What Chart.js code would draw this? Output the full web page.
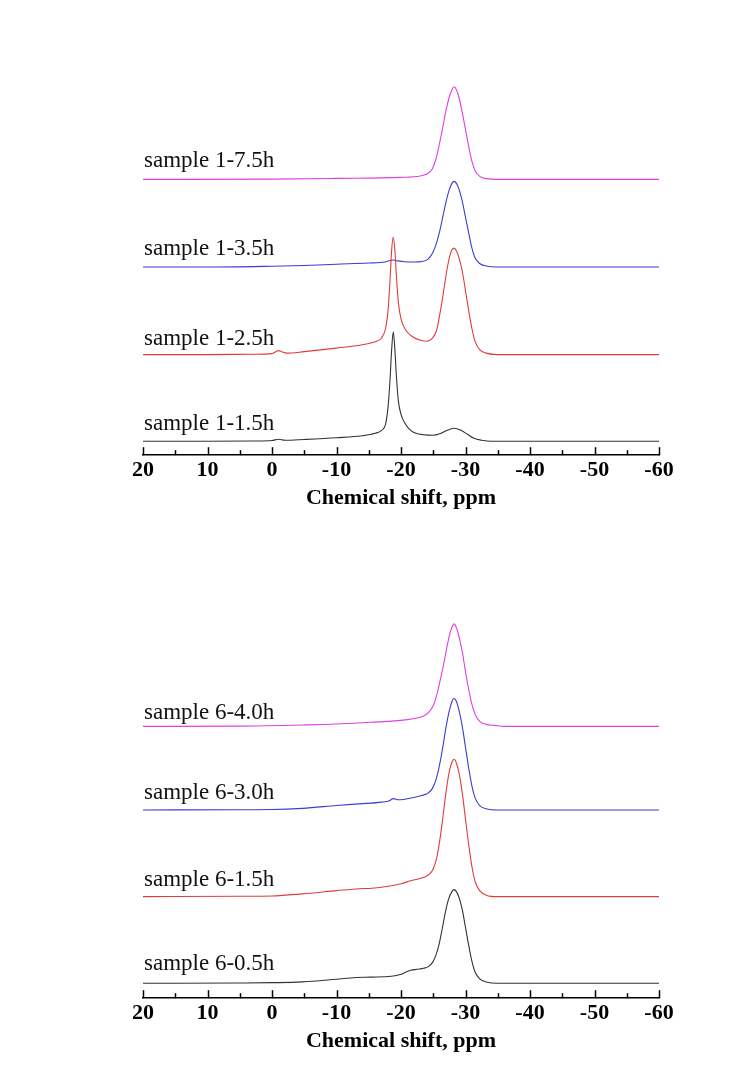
<!DOCTYPE html>
<html>
<head>
<meta charset="utf-8">
<script src="https://cdn.jsdelivr.net/npm/chart.js@4.4.1/dist/chart.umd.min.js"></script>
<style>
  body { margin: 0; background: #fff; }
  .panel { position: absolute; left: 0; width: 752px; height: 520px; }
</style>
</head>
<body>
<div class="panel" style="top:2px"><canvas id="topChart"></canvas></div>
<div class="panel" style="top:545px"><canvas id="bottomChart"></canvas></div>
<script>
// axis ticks (ppm)
const majorTicks = [20, 10, 0, -10, -20, -30, -40, -50, -60];
const minorTicks = [15, 5, -5, -15, -25, -35, -45, -55];

// top panel: sample 1, [ppm, intensity]
const topLabels = ["sample 1-1.5h", "sample 1-2.5h", "sample 1-3.5h", "sample 1-7.5h"];
const topOffsets = [14, 101, 189, 277];
const s1_15h = [[20,0],[10,0],[3,0.3],[0,0.8],[-1,2],[-2,1],[-5,1.8],[-10,3.5],[-14,5.5],[-16,8],[-17,11],[-17.6,17],[-18,35],[-18.3,62],[-18.55,92],[-18.8,110],[-19.05,92],[-19.3,64],[-19.6,40],[-20,27],[-20.7,17],[-21.5,11],[-22.3,8],[-23.5,6.5],[-25,6],[-26,7.5],[-27,10.5],[-28.2,13],[-29.3,11],[-30.3,7],[-31.3,3],[-32.5,1],[-34,0],[-60,0]];
const s1_25h = [[20,0],[10,0],[3,0.4],[0,1],[-0.6,3],[-1,4],[-1.5,3],[-2.2,1.5],[-5,3],[-10,6.5],[-14,10],[-16,13],[-17,17],[-17.6,26],[-18,45],[-18.3,75],[-18.55,105],[-18.8,118],[-19.05,105],[-19.3,78],[-19.6,52],[-20,36],[-20.7,25],[-21.8,18],[-23,14.5],[-24,13.5],[-24.8,16],[-25.5,24],[-26,40],[-26.4,55],[-26.8,72],[-27.2,88],[-27.6,100],[-27.9,105],[-28.2,107],[-28.6,104],[-29,97],[-29.5,84],[-30,64],[-30.5,44],[-31,26],[-31.5,13],[-32.2,5],[-33.2,1.5],[-35,0],[-60,0]];
const s1_35h = [[20,0],[10,0],[0,0.8],[-5,1.5],[-10,2.8],[-15,4],[-17.5,5],[-18.3,6.5],[-18.8,7],[-19.4,6.3],[-20.5,5.3],[-22,5],[-23.3,5.5],[-24.2,8],[-24.9,14],[-25.5,24],[-26,36],[-26.5,51],[-27,66],[-27.5,78],[-27.9,84],[-28.2,86],[-28.6,84],[-29,78],[-29.5,66],[-30,50],[-30.5,34],[-31,19],[-31.5,9],[-32.2,3.5],[-33.2,1],[-35,0],[-60,0]];
const s1_75h = [[20,0],[0,0.3],[-10,1],[-20,2],[-23,3.5],[-24,5.5],[-24.8,10],[-25.4,20],[-26,37],[-26.5,53],[-27,70],[-27.5,83],[-27.9,90],[-28.2,93],[-28.6,90],[-29,82],[-29.5,67],[-30,50],[-30.5,33],[-31,18],[-31.5,8.5],[-32.2,3],[-33.2,0.8],[-35,0],[-60,0]];

// bottom panel: sample 6
const bottomLabels = ["sample 6-0.5h", "sample 6-1.5h", "sample 6-3.0h", "sample 6-4.0h"];
const bottomOffsets = [15, 102, 189, 273];
const s6_05h = [[20,0],[5,0.3],[0,0.6],[-4.7,1.4],[-10,4.1],[-13,5.8],[-15.4,6.2],[-18.5,7],[-20,9],[-20.7,11],[-21.5,13],[-22.5,14],[-23.5,15],[-24.3,17],[-24.9,21],[-25.4,28],[-25.9,39],[-26.4,55],[-26.9,72],[-27.4,85],[-27.9,92],[-28.2,94],[-28.6,92],[-29,86],[-29.5,74],[-30,56],[-30.5,38],[-31,22],[-31.5,11],[-32.2,4.5],[-33.2,1.3],[-35,0],[-60,0]];
const s6_15h = [[20,0],[5,0.4],[0,0.7],[-4.7,2.8],[-10,6],[-13.5,8],[-15.5,8.5],[-18,10.5],[-20,13],[-21.5,16],[-22.8,18],[-23.8,20],[-24.5,23],[-25,28],[-25.5,38],[-26,56],[-26.5,80],[-27,106],[-27.5,126],[-27.9,135],[-28.2,138],[-28.6,134],[-29,124],[-29.5,104],[-30,78],[-30.5,52],[-31,30],[-31.5,15],[-32.2,6],[-33.2,1.5],[-35,0],[-60,0]];
const s6_30h = [[20,0],[5,0.3],[0,0.5],[-4.7,1.7],[-10,4.5],[-13.5,6.2],[-17,7.9],[-18.2,9.3],[-18.8,11.4],[-19.6,10.3],[-21.8,12.4],[-23.2,14.5],[-24.2,17],[-24.9,22],[-25.5,32],[-26,46],[-26.5,64],[-27,84],[-27.5,100],[-27.9,109],[-28.2,112],[-28.6,109],[-29,100],[-29.5,84],[-30,63],[-30.5,42],[-31,24],[-31.5,12],[-32.2,4.5],[-33.2,1.2],[-35,0],[-60,0]];
const s6_40h = [[20,0],[5,0.3],[-5,1.5],[-10,2.4],[-15.4,4.1],[-20.7,6.5],[-22.5,8.5],[-23.5,10.5],[-24.3,14],[-25,21],[-25.6,33],[-26.1,47],[-26.6,62],[-27.1,79],[-27.6,94],[-28,101],[-28.2,103],[-28.6,99],[-29,90],[-29.5,75],[-30,55],[-30.5,37],[-31,22],[-31.5,12],[-32.2,5],[-33.2,2],[-34.5,1],[-36,0],[-60,0]];

const colors = ["#333333", "#e03c3c", "#3c3cd0", "#e040e0"];

const tickMarks = {
    id: "tickMarks",
    afterDraw(chart) {
        const xs = chart.scales.x;
        const ctx = chart.ctx;
        const bottom = chart.chartArea.bottom;
        ctx.save();
        ctx.strokeStyle = "#000";
        ctx.lineWidth = 1.5;
        xs.ticks.forEach(t => {
            const px = Math.round(xs.getPixelForValue(t.value)) + 0.5;
            const len = majorTicks.includes(t.value) ? 8 : 5;
            ctx.beginPath();
            ctx.moveTo(px, bottom);
            ctx.lineTo(px, bottom - len);
            ctx.stroke();
        });
        ctx.restore();
    }
};

// lift = distance of the label baseline above its trace
function labelPlugin(labels, offsets, lift) {
    return {
        id: "sampleLabels",
        afterDatasetsDraw(chart) {
            const xs = chart.scales.x, ys = chart.scales.y, ctx = chart.ctx;
            ctx.save();
            ctx.font = "23px 'Liberation Serif', 'Times New Roman', serif";
            ctx.fillStyle = "#111";
            ctx.textBaseline = "alphabetic";
            labels.forEach((txt, i) => {
                ctx.fillText(txt, xs.getPixelForValue(20) + 1, ys.getPixelForValue(offsets[i]) - lift[i]);
            });
            ctx.restore();
        }
    };
}

function makeChart(id, series, labels, offsets, lift) {
    const datasets = series.map((pts, i) => ({
        data: pts.map(([x, y]) => ({ x: x, y: y + offsets[i] })),
        borderColor: colors[i],
        borderWidth: 1.1,
        pointRadius: 0,
        cubicInterpolationMode: "monotone"
    }));
    new Chart(document.getElementById(id), {
        type: "line",
        data: { datasets: datasets },
        options: {
            responsive: true,
            maintainAspectRatio: false,
            animation: false,
            layout: { padding: { left: 143, right: 93, top: 40, bottom: 6 } },
            plugins: { legend: { display: false }, tooltip: { enabled: false } },
            scales: {
                x: {
                    type: "linear",
                    reverse: true,
                    min: -60,
                    max: 20,
                    afterBuildTicks: scale => {
                        scale.ticks = majorTicks.concat(minorTicks).sort((a, b) => b - a).map(v => ({ value: v }));
                    },
                    ticks: {
                        autoSkip: false,
                        maxRotation: 0,
                        padding: 2,
                        color: "#000",
                        font: { family: "'Liberation Serif', 'Times New Roman', serif", size: 22, weight: "bold" },
                        callback: v => majorTicks.includes(v) ? String(v) : ""
                    },
                    grid: { drawOnChartArea: false, drawTicks: false },
                    border: { color: "#000", width: 1.5 },
                    title: {
                        display: true,
                        text: "Chemical shift, ppm",
                        color: "#000",
                        font: { family: "'Liberation Serif', 'Times New Roman', serif", size: 22, weight: "bold" },
                        padding: { top: 0, bottom: 4 }
                    }
                },
                y: { display: false, min: 0, max: 415 }
            }
        },
        plugins: [tickMarks, labelPlugin(labels, offsets, lift)]
    });
}

makeChart("topChart", [s1_15h, s1_25h, s1_35h, s1_75h], topLabels, topOffsets, [11, 10, 12, 12]);
makeChart("bottomChart", [s6_05h, s6_15h, s6_30h, s6_40h], bottomLabels, bottomOffsets, [13, 11, 11, 7]);
</script>
</body>
</html>
